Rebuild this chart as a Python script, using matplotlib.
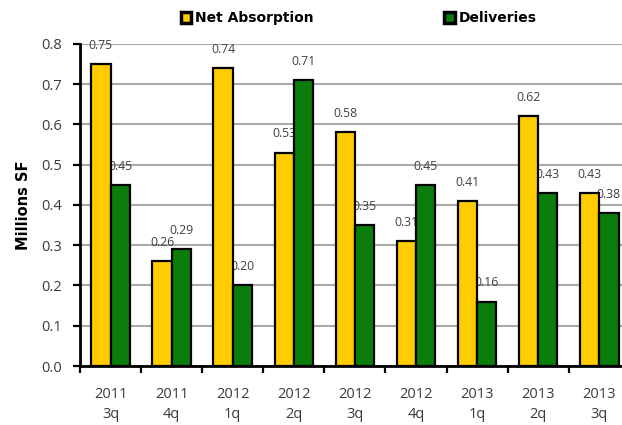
import matplotlib
matplotlib.use("Agg")
import matplotlib.pyplot as plt
import numpy as np
from matplotlib.patches import Patch

categories = ["2011\n3q", "2011\n4q", "2012\n1q", "2012\n2q", "2012\n3q",
              "2012\n4q", "2013\n1q", "2013\n2q", "2013\n3q"]
net_absorption = [0.75, 0.26, 0.74, 0.53, 0.58, 0.31, 0.41, 0.62, 0.43]
deliveries = [0.45, 0.29, 0.20, 0.71, 0.35, 0.45, 0.16, 0.43, 0.38]
y_ticks = [0.0, 0.1, 0.2, 0.3, 0.4, 0.5, 0.6, 0.7, 0.8]

yellow = "#FFCC00"
green = "#0A7D0A"

fig = plt.figure(figsize=(6.22, 4.25), dpi=100)
ax = fig.add_axes([0.1286, 0.1388, 0.884, 0.758])

x = np.arange(len(categories))
w = 0.315
ax.bar(x - w / 2, net_absorption, w, color=yellow, edgecolor="black",
       linewidth=1.6, zorder=3)
ax.bar(x + w / 2, deliveries, w, color=green, edgecolor="black",
       linewidth=1.6, zorder=3)

# value labels sit above each bar, behind the neighbouring bar
for xs, vals in ((x - w / 2, net_absorption), (x + w / 2, deliveries)):
    for xi, v in zip(xs, vals):
        ax.annotate(f"{v:.2f}", (xi, v), xytext=(0, 13.5), textcoords="offset points",
                    ha="center", va="center", fontsize=8.8, color="#404040",
                    family="Open Sans", zorder=2, annotation_clip=False)

ax.set_xlim(-0.5, len(categories) - 0.5)
ax.set_ylim(0, 0.8)
ax.set_yticks(y_ticks)
ax.set_yticklabels([f"{t:.1f}" for t in y_ticks], family="Open Sans",
                   fontsize=10.5, color="#3a3a3a")
ax.set_xticks(x)
ax.set_xticklabels(categories, family="Open Sans", fontsize=10.5, color="#3a3a3a",
                   linespacing=1.45)
ax.set_xticks(np.arange(len(categories) + 1) - 0.5, minor=True)
ax.tick_params(axis="x", which="major", length=0, pad=15)
ax.tick_params(axis="x", which="minor", length=5, width=1.6, color="black",
               direction="out")
ax.tick_params(axis="y", length=5, width=1.6, color="black", direction="out", pad=8)

ax.yaxis.grid(True, color="#AAAAAA", linewidth=1.5, zorder=0)
ax.set_axisbelow(True)
for s in ("top", "right"):
    ax.spines[s].set_visible(False)
for s in ("left", "bottom"):
    ax.spines[s].set_linewidth(2)
    ax.spines[s].set_zorder(4)

ax.set_ylabel("Millions SF", fontsize=10.5, fontweight="bold", family="DejaVu Sans",
              labelpad=7)

handles = [Patch(facecolor=yellow, edgecolor="black", linewidth=2.5),
           Patch(facecolor=green, edgecolor="black", linewidth=2.5)]
fig.legend(handles, ["Net Absorption", "Deliveries"], ncol=2,
           loc="center", bbox_to_anchor=(0.577, 0.957), frameon=False,
           handlelength=0.75, handleheight=0.75, handletextpad=0.3,
           columnspacing=9.4, prop={"family": "DejaVu Sans",
                                    "weight": "bold", "size": 10})

fig.savefig("out.png", dpi=100)
